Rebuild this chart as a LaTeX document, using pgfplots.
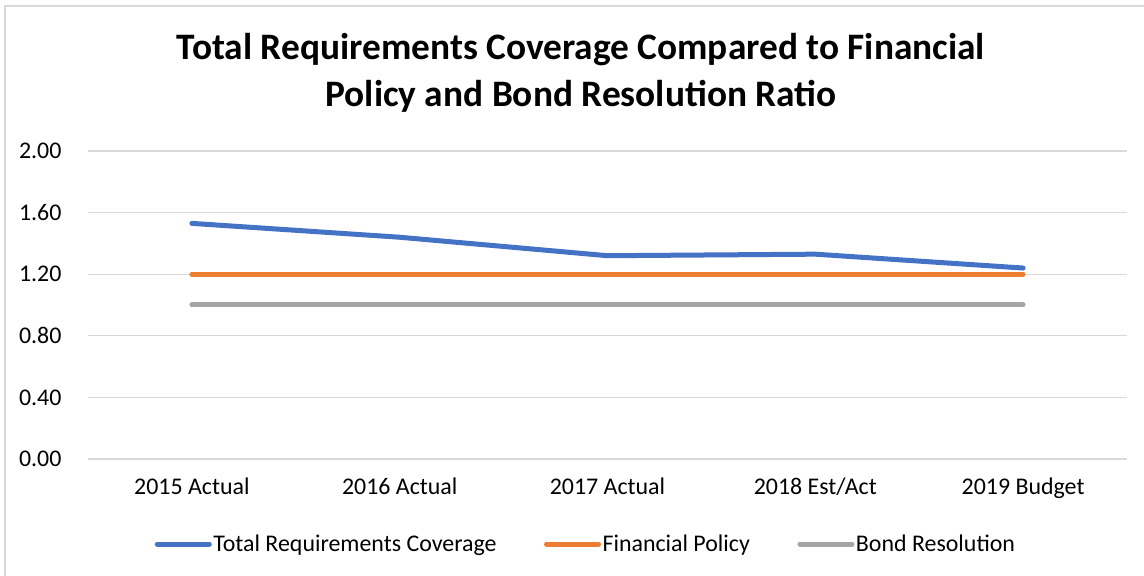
\documentclass[border=0pt]{standalone}
\usepackage{pgfplots}
\pgfplotsset{compat=1.18}
\usepackage{fontspec}
\setmainfont{Carlito}
\definecolor{cblue}{HTML}{4472C4}
\definecolor{corange}{HTML}{ED7D31}
\definecolor{cgray}{HTML}{A5A5A5}
\definecolor{cgrid}{HTML}{D9D9D9}
\begin{document}
\begin{tikzpicture}
\useasboundingbox (0bp,0bp) rectangle (1144bp,576bp);
\fill[white] (0bp,0bp) rectangle (1144bp,576bp);
\draw[cgrid, line width=1.5bp] (5bp,0bp) -- (5bp,570bp) -- (1144bp,570bp);
\node[align=center, font=\fontsize{37.5}{47}\selectfont\bfseries, inner sep=0pt] at (581bp,503bp)
  {Total Requirements Coverage Compared to Financial\\Policy and Bond Resolution Ratio};
\begin{axis}[
  at={(88bp,117bp)}, anchor=south west,
  scale only axis, width=1039bp, height=308bp,
  xmin=-0.5, xmax=4.5, ymin=0, ymax=2,
  xtick={0,1,2,3,4},
  xticklabels={2015 Actual,2016 Actual,2017 Actual,2018 Est/Act,2019 Budget},
  ytick={0,0.4,0.8,1.2,1.6,2.0},
  /pgf/number format/assume math mode=true,
  yticklabel style={/pgf/number format/fixed,/pgf/number format/fixed zerofill,/pgf/number format/precision=2},
  ticklabel style={font=\fontsize{24}{28}\selectfont, text=black},
  xticklabel style={yshift=-15bp},
  yticklabel style={xshift=-23bp},
  major tick length=0pt,
  axis line style={draw=none},
  ymajorgrids, grid style={cgrid, line width=1.3bp},
  legend columns=3,
  legend style={draw=none, fill=none, at={(0.479,-0.276)}, anchor=center,
    font=\fontsize{24}{28}\selectfont,
    nodes={inner xsep=1.5bp},
    /tikz/every even column/.append style={column sep=46bp}},
  legend image code/.code={\draw[#1, line cap=round] (0bp,0bp) -- (52bp,0bp);},
  every axis plot/.append style={line width=5bp, line cap=round, line join=round},
  clip=false,
]
\addplot[cblue] coordinates {(0,1.53) (1,1.44) (2,1.32) (3,1.33) (4,1.24)};
\addlegendentry{Total Requirements Coverage}
\addplot[corange] coordinates {(0,1.20) (1,1.20) (2,1.20) (3,1.20) (4,1.20)};
\addlegendentry{Financial Policy}
\addplot[cgray] coordinates {(0,1.00) (1,1.00) (2,1.00) (3,1.00) (4,1.00)};
\addlegendentry{Bond Resolution}
\end{axis}
\end{tikzpicture}
\end{document}
